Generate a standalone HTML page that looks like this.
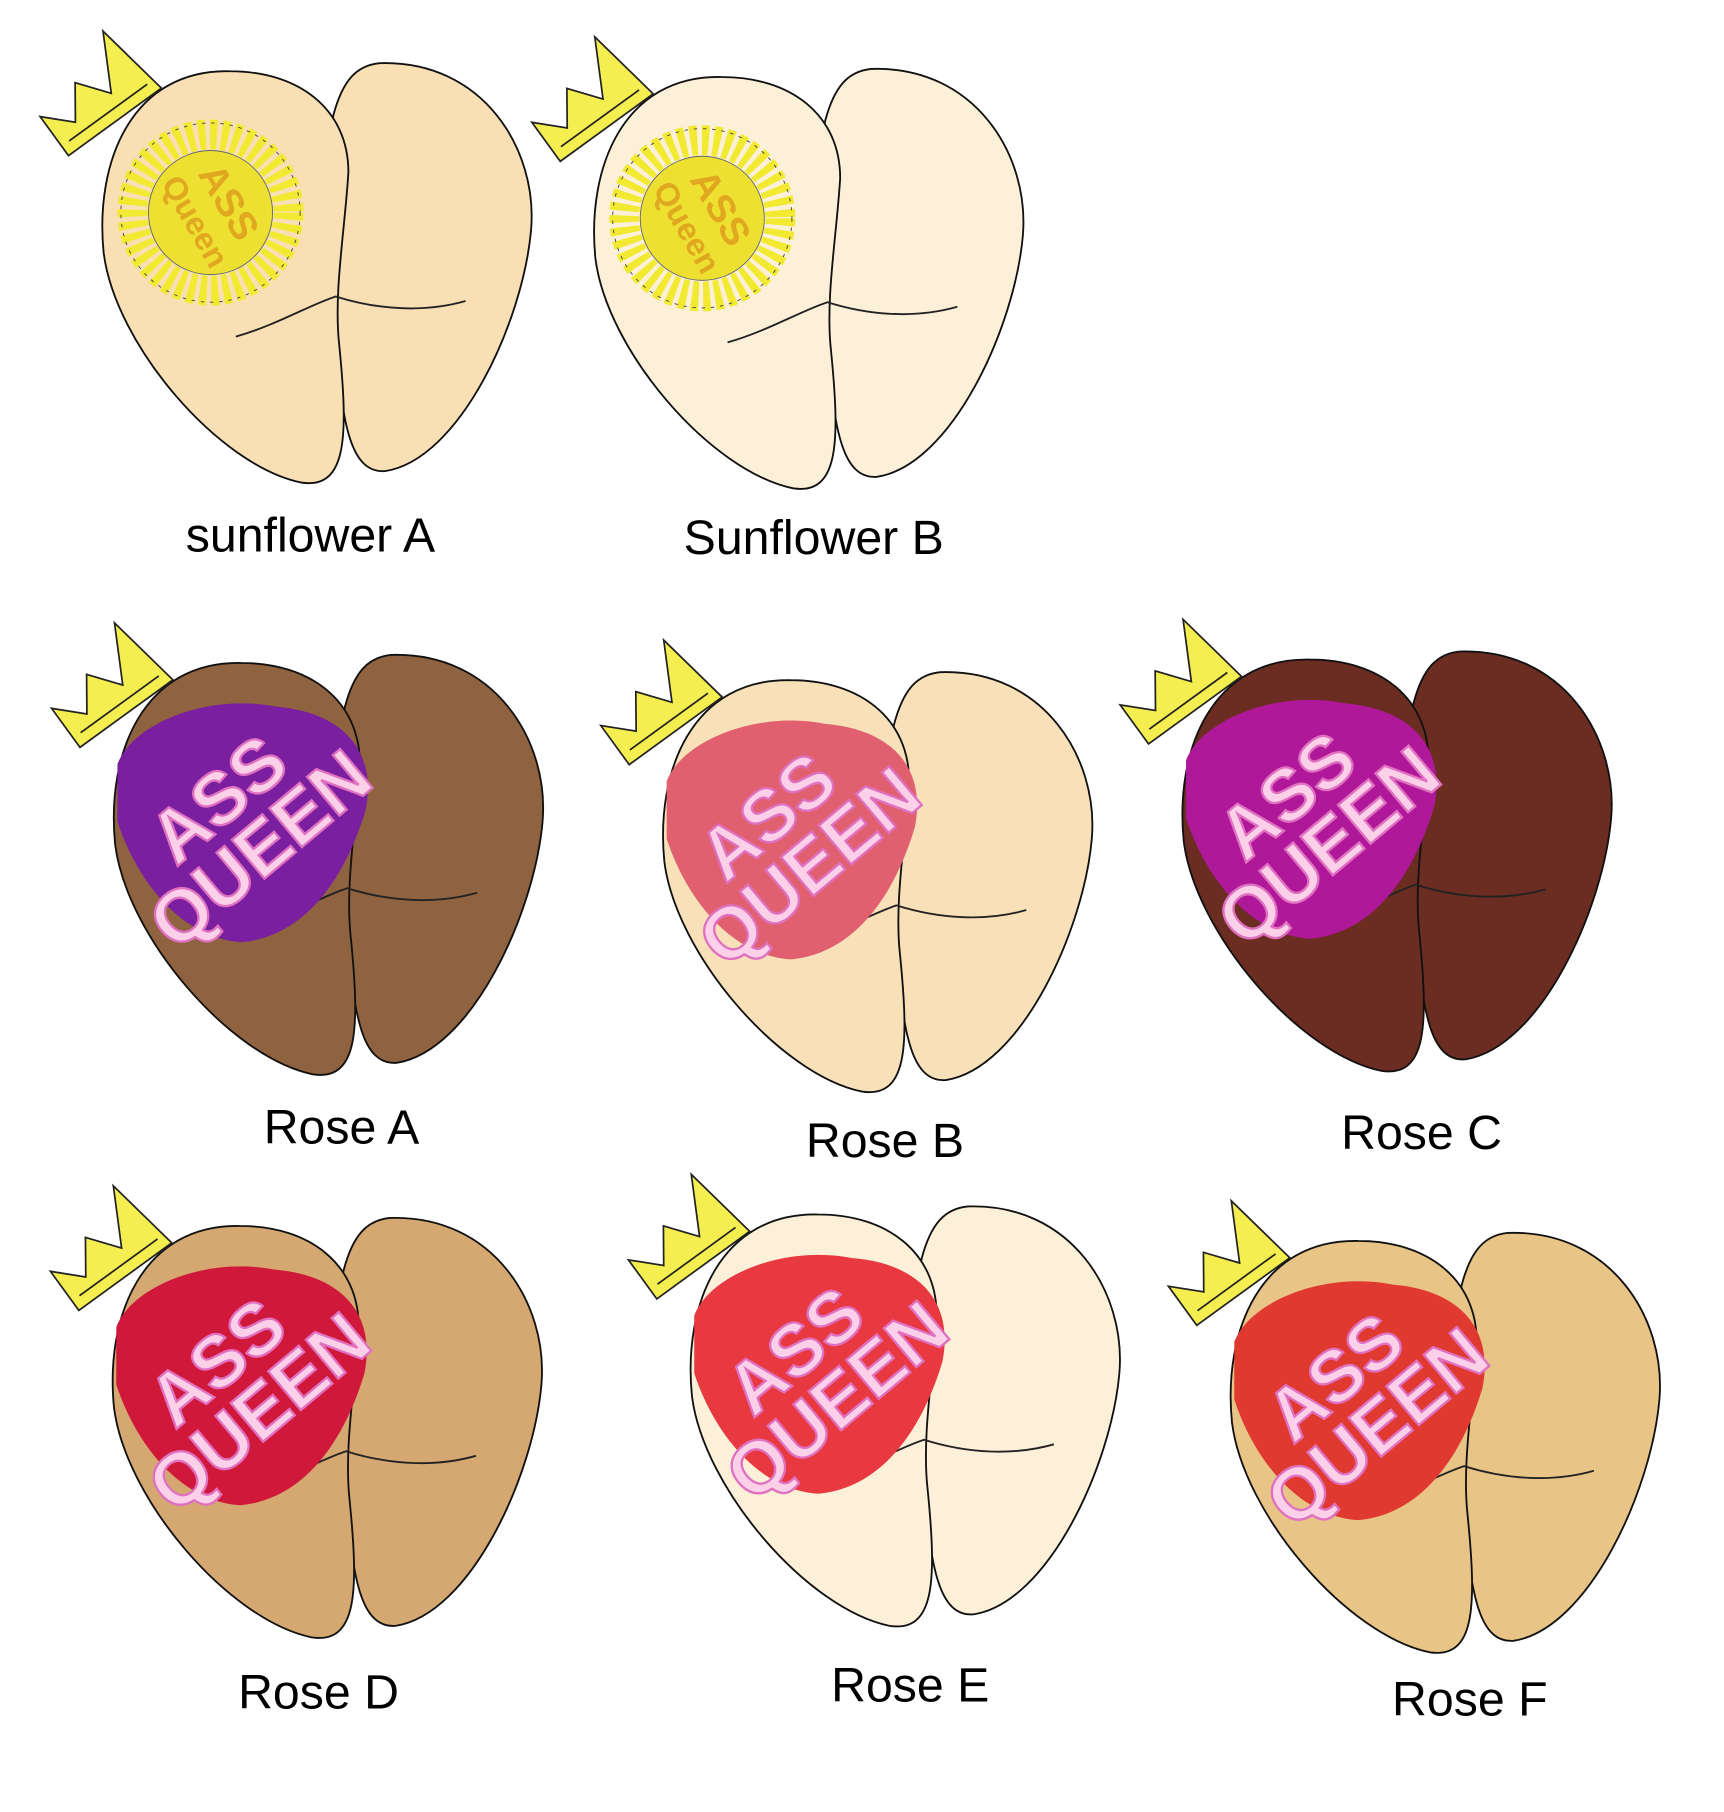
<!DOCTYPE html>
<html><head><meta charset="utf-8"><style>html,body{margin:0;padding:0;background:#fff}svg{display:block}</style></head>
<body>
<svg width="1724" height="1812" viewBox="0 0 1500 1577" xmlns="http://www.w3.org/2000/svg" font-family="'Liberation Sans', sans-serif">
<defs>
<g id="rc"><path d="M330,55 C420,52 468,130 462,200 C455,280 400,400 335,410 C305,412 298,370 292,300 C286,240 280,150 290,100 C298,70 310,57 330,55 Z" stroke="#111" stroke-width="1.6"/></g>
<g id="lc"><path d="M200,62 C115,60 82,140 90,220 C100,300 190,405 262,420 C302,426 303,380 295,300 C290,255 300,200 303,150 C303,95 260,62 200,62 Z" stroke="#111" stroke-width="1.6"/>
<path d="M205,293 C240,283 270,265 292,258 C330,270 370,272 405,262" fill="none" stroke="#222" stroke-width="1.6"/></g>
<g id="crown"><g transform="translate(30,95) rotate(-36)"><path d="M0,50 L0,8 L22,30 L42,2 L62,28 L88,-20 L100,50 Z M8,40 L92,40" fill="#f4ee50" stroke="#222" stroke-width="1.5"/></g></g>
<g id="sun"><circle cx="183" cy="185" r="68" fill="none" stroke="#f2ea30" stroke-width="26" stroke-dasharray="6 4"/>
<circle cx="183" cy="185" r="78" fill="none" stroke="#444" stroke-width="0.8" stroke-dasharray="3 5"/>
<circle cx="183" cy="185" r="54" fill="#eee030" stroke="#666" stroke-width="0.8"/>
<g transform="rotate(60 183 185)" fill="#e0a820" font-weight="bold" text-anchor="middle"><text x="183" y="178" font-size="34">ASS</text><text x="183" y="210" font-size="28">Queen</text></g></g>
<path id="patch" d="M92,150 C105,115 170,88 230,100 C290,105 318,140 308,190 C290,250 255,300 200,305 C150,302 110,255 92,200 Z"/>
<g id="aq"><g transform="rotate(-40 200 205)" fill="#fbd0e8" font-weight="bold" stroke="#e070c0" stroke-width="2" text-anchor="middle"><text x="200" y="195" font-size="64">ASS</text><text x="200" y="252" font-size="64">QUEEN</text></g></g>
</defs>

<g fill="#f8dfb4"><use href="#rc"/><use href="#lc"/><use href="#crown"/><use href="#sun"/></g>
<text x="270" y="480" font-size="42" text-anchor="middle">sunflower A</text>

<g transform="translate(428,5)" fill="#fcf0d8"><use href="#rc"/><use href="#lc"/><use href="#crown"/><use href="#sun"/></g>
<text x="708" y="482" font-size="42" text-anchor="middle">Sunflower B</text>

<g transform="translate(10,515)" fill="#8f6240"><use href="#rc"/><use href="#lc"/><use href="#crown"/><use href="#patch" fill="#7a1fa0"/><use href="#aq"/></g>
<text x="297" y="995" font-size="42" text-anchor="middle">Rose A</text>

<g transform="translate(488,530)" fill="#f8e0b8"><use href="#rc"/><use href="#lc"/><use href="#crown"/><use href="#patch" fill="#e06070"/><use href="#aq"/></g>
<text x="770" y="1007" font-size="42" text-anchor="middle">Rose B</text>

<g transform="translate(940,512)" fill="#6b2c22"><use href="#rc"/><use href="#lc"/><use href="#crown"/><use href="#patch" fill="#b0189a"/><use href="#aq"/></g>
<text x="1237" y="1000" font-size="42" text-anchor="middle">Rose C</text>

<g transform="translate(9,1005)" fill="#d4a870"><use href="#rc"/><use href="#lc"/><use href="#crown"/><use href="#patch" fill="#d0183a"/><use href="#aq"/></g>
<text x="277" y="1487" font-size="42" text-anchor="middle">Rose D</text>

<g transform="translate(512,995)" fill="#fcf0d8"><use href="#rc"/><use href="#lc"/><use href="#crown"/><use href="#patch" fill="#e83840"/><use href="#aq"/></g>
<text x="792" y="1481" font-size="42" text-anchor="middle">Rose E</text>

<g transform="translate(982,1018)" fill="#e8c486"><use href="#rc"/><use href="#lc"/><use href="#crown"/><use href="#patch" fill="#e03a30"/><use href="#aq"/></g>
<text x="1279" y="1493" font-size="42" text-anchor="middle">Rose F</text>
</svg>
</body></html>
